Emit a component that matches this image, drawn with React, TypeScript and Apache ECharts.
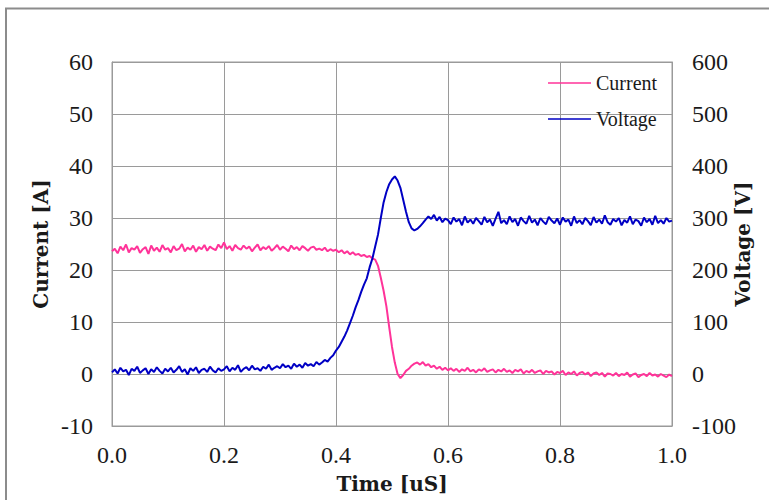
import React, { useEffect, useRef } from "react";
import * as echarts from "echarts";

// Sampling interval of the recorded waveforms (uS)
const TIME_STEP = 0.005;

// Current [A], one sample every TIME_STEP from 0.0 to 1.0 uS
const currentA: number[] = [
  23.6, 24.1, 23.2, 24.5, 23.8, 24.9, 23.4, 24.2, 23.9, 24.6, 23.3, 24.0, 24.4, 23.1, 24.7, 23.7, 24.3, 23.5, 24.8, 23.9,
  24.2, 23.4, 24.6, 23.8, 24.1, 25.0, 23.6, 24.3, 23.9, 24.7, 23.5, 24.4, 24.0, 24.8, 23.7, 24.5, 24.1, 23.8, 24.9, 24.2,
  25.3, 24.0, 24.6, 23.7, 24.8, 24.2, 23.9, 24.7, 24.1, 24.5, 23.6, 24.3, 24.9, 23.8, 24.4, 24.0, 24.6, 23.7, 24.2, 24.8,
  23.9, 24.5, 24.1, 23.6, 24.7, 24.0, 24.4, 23.8, 24.6, 24.2, 23.7, 24.3, 24.5, 23.9, 24.1, 23.8, 24.3, 23.6, 24.0, 23.7,
  23.9, 23.4, 23.8, 23.2, 23.6, 23.0, 23.4, 22.9, 23.1, 22.7, 22.9, 22.5, 22.7, 22.2, 22.0, 20.8, 18.5, 16.0, 13.0, 9.0,
  5.2, 2.2, 0.0, -0.8, -0.2, 0.6, 1.0, 1.6, 2.0, 2.2, 1.8, 2.3, 1.6, 1.9, 1.3, 1.6, 1.0, 1.4, 0.8, 1.2,
  0.7, 1.1, 0.6, 1.0, 0.4, 0.9, 0.6, 1.2, 0.5, 0.8, 0.3, 0.9, 0.6, 1.1, 0.4, 0.7, 0.9, 0.3, 0.8, 0.5,
  1.0, 0.4, 0.7, 0.2, 0.8, 0.5, 0.9, 0.1, 0.6, 0.3, 0.8, 0.2, 0.5, 0.7, 0.0, 0.6, 0.3, 0.5, -0.1, 0.4,
  0.2, 0.6, -0.2, 0.3, 0.0, 0.5, -0.3, 0.2, 0.4, -0.1, 0.3, -0.4, 0.1, 0.3, -0.2, 0.2, -0.5, 0.1, 0.0, -0.3,
  0.2, -0.4, 0.0, -0.2, 0.3, -0.5, -0.1, 0.1, -0.6, -0.2, 0.0, -0.4, 0.2, -0.3, -0.1, -0.5, 0.0, -0.3, -0.6, -0.1,
  -0.4,
];

// Voltage [V], one sample every TIME_STEP from 0.0 to 1.0 uS
const voltageV: number[] = [
  3, 9, 1, 12, 5, 8, -2, 10, 6, 14, 2, 7, 11, 0, 9, 4, 13, 6, 1, 10,
  5, 12, 3, 8, 15, 4, 9, -1, 11, 6, 13, 2, 8, 10, 4, 14, 7, 3, 11, 6,
  9, 15, 5, 12, 8, 17, 4, 10, 13, 7, 16, 9, 11, 6, 14, 10, 18, 8, 12, 15,
  11, 19, 13, 16, 10, 20, 14, 18, 12, 21, 16, 19, 15, 23, 18, 22, 27, 24, 31, 36,
  45, 52, 62, 72, 84, 98, 112, 128, 142, 158, 172, 184, 205, 222, 245, 268, 300, 330, 350, 365,
  374, 380, 372, 358, 335, 312, 292, 280, 276, 279, 284, 290, 297, 303, 298, 306, 295, 302, 292, 299,
  296, 288, 301, 293, 298, 286, 303, 291, 297, 289, 300, 294, 287, 302, 292, 297, 285, 299, 312, 290,
  296, 288, 303, 292, 298, 285, 301, 294, 289, 304, 291, 297, 286, 300, 293, 288, 302, 295, 290, 299,
  287, 301, 293, 297, 285, 303, 290, 296, 288, 300, 294, 286, 302, 291, 297, 289, 305, 292, 287, 298,
  293, 300, 286, 296, 291, 303, 288, 297, 294, 285, 301, 292, 298, 287, 304, 290, 296, 289, 300, 293,
  295,
];

const seriesNames = ["Current", "Voltage"];
const seriesColors = ["#ff3399", "#0000c4"];
const axisNames = { x: "Time [uS]", left: "Current [A]", right: "Voltage [V]" };

const pairs = (vals: number[]) =>
  vals.map((v, i) => [Number((i * TIME_STEP).toFixed(3)), v]);

export default function App() {
  const ref = useRef<HTMLDivElement>(null);

  useEffect(() => {
    document.body.style.margin = "0";
    if (!ref.current) return;
    const chart = echarts.init(ref.current, null, { renderer: "svg" });
    const tickFont = {
      fontFamily: "Liberation Serif",
      fontSize: 24,
      color: "#1a1a1a",
    };
    const nameFont = {
      fontFamily: "DejaVu Serif",
      fontSize: 20,
      fontWeight: "bold" as const,
      color: "#1a1a1a",
    };
    const gridLine = { show: true, lineStyle: { color: "#9a9a9a", width: 1 } };
    chart.setOption({
      animation: false,
      backgroundColor: "#ffffff",
      graphic: [
        {
          type: "rect",
          shape: { x: 6, y: 8.5, width: 900, height: 700 },
          style: { fill: "none", stroke: "#8c8c8c", lineWidth: 2 },
          silent: true,
        },
      ],
      grid: {
        left: 112,
        top: 62,
        width: 560,
        height: 364,
        outerBoundsMode: "none",
        containLabel: false,
        show: true,
        borderColor: "#9a9a9a",
        borderWidth: 1,
      },
      legend: {
        data: seriesNames.map((n) => ({ name: n, icon: "rect" })),
        orient: "vertical",
        left: 543,
        top: 68,
        itemWidth: 43,
        itemHeight: 1.5,
        itemGap: 16,
        textStyle: {
          fontFamily: "Liberation Serif",
          fontSize: 20,
          color: "#1a1a1a",
        },
      },
      xAxis: {
        type: "value",
        min: 0,
        max: 1,
        interval: 0.2,
        name: axisNames.x,
        nameLocation: "middle",
        nameGap: 48,
        nameMoveOverlap: false,
        nameTextStyle: nameFont,
        axisLine: { onZero: false, lineStyle: { color: "#9a9a9a" } },
        axisTick: { show: false },
        axisLabel: {
          ...tickFont,
          margin: 17,
          formatter: (v: number) => v.toFixed(1),
        },
        splitLine: gridLine,
      },
      yAxis: [
        {
          type: "value",
          min: -10,
          max: 60,
          interval: 10,
          name: axisNames.left,
          nameLocation: "middle",
          nameGap: 61,
          nameRotate: 90,
          nameMoveOverlap: false,
          nameTextStyle: nameFont,
          axisLine: { show: true, lineStyle: { color: "#9a9a9a" } },
          axisTick: { show: false },
          axisLabel: { ...tickFont, margin: 19 },
          splitLine: gridLine,
        },
        {
          type: "value",
          min: -100,
          max: 600,
          interval: 100,
          position: "right",
          name: axisNames.right,
          nameLocation: "middle",
          nameGap: 61,
          nameRotate: 90,
          nameMoveOverlap: false,
          nameTextStyle: nameFont,
          axisLine: { show: true, lineStyle: { color: "#9a9a9a" } },
          axisTick: { show: false },
          axisLabel: { ...tickFont, margin: 20 },
          splitLine: { show: false },
        },
      ],
      series: [
        {
          name: seriesNames[0],
          type: "line",
          yAxisIndex: 0,
          data: pairs(currentA),
          symbol: "none",
          lineStyle: { color: seriesColors[0], width: 2 },
          itemStyle: { color: seriesColors[0] },
        },
        {
          name: seriesNames[1],
          type: "line",
          yAxisIndex: 1,
          data: pairs(voltageV),
          symbol: "none",
          lineStyle: { color: seriesColors[1], width: 2 },
          itemStyle: { color: seriesColors[1] },
        },
      ],
    });
    return () => chart.dispose();
  }, []);

  return (
    <div
      ref={ref}
      style={{ position: "absolute", left: 0, top: 0, width: 769, height: 500 }}
    />
  );
}
